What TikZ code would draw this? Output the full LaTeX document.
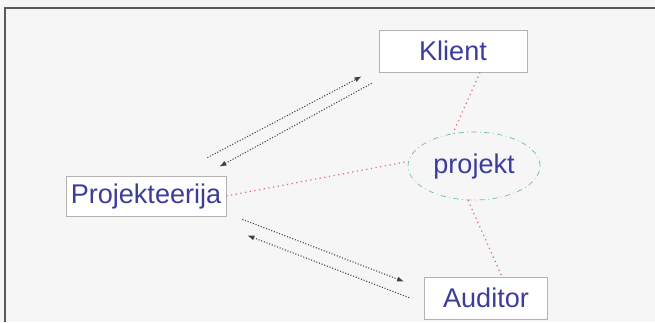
\documentclass[tikz,border=0pt]{standalone}
\usepackage{fontspec}
\setmainfont{Liberation Sans}
\usetikzlibrary{arrows.meta,shapes.geometric}
\definecolor{texteBleu}{RGB}{60,60,155}
\definecolor{fondGris}{RGB}{246,246,246}
\definecolor{vertProjet}{RGB}{110,190,160}
\definecolor{rougeLien}{RGB}{225,110,120}
\begin{document}
\begin{tikzpicture}[x=0.02cm,y=-0.02cm]
		% Styles
		\def\px{0.02cm}
		\tikzstyle{boite}=[draw=gray!60,fill=white,inner sep=0pt,text=texteBleu,font=\fontsize{15.4}{18}\selectfont]
		\tikzstyle{projet}=[ellipse,draw=vertProjet,dash dot,fill=fondGris,inner sep=0pt,text=texteBleu,font=\fontsize{15.4}{18}\selectfont]
		\tikzstyle{fleche}=[-{Latex[length=4pt,width=3pt]},densely dotted,gray!50!black,line width=0.6pt]
		\tikzstyle{lienProjet}=[-,dotted,rougeLien,line width=0.7pt]
		\tikzstyle{cadre}=[gray!70!black,line width=1.2pt]
		% Fond
		\useasboundingbox (0,0) rectangle (655,322);
		\fill[fondGris] (0,0) rectangle (655,322);
		\draw[cadre] (5,322) -- (5,8) -- (655,8);
		% Noeuds
		\node[boite,minimum width=148*\px,minimum height=42*\px] (K) at (453,51) {Klient};
		\node[boite,minimum width=160*\px,minimum height=40*\px] (P) at (146,196) {Projekteerija};
		\node[boite,minimum width=123*\px,minimum height=42*\px] (A) at (486,298) {Auditor};
		\node[projet,minimum width=132*\px,minimum height=68*\px] (Pr) at (474,166) {projekt};
		% Liens
		\draw[fleche] ([shift={(-19,-18)}]P.north east) -- ([shift={(-17,4)}]K.south west);
		\draw[fleche] ([shift={(-7,11)}]K.south west) -- ([shift={(-7,-9)}]P.north east);
		\draw[fleche] ([shift={(16,3)}]P.south east) -- ([shift={(-20,5)}]A.north west);
		\draw[fleche] ([shift={(-15,21)}]A.north west) -- ([shift={(21,19)}]P.south east);
		\draw[lienProjet] ([shift={(27,0)}]K.south) -- (Pr.123);
		\draw[lienProjet] (Pr.260) -- ([shift={(16,0)}]A.north);
		\draw[lienProjet] (P.east) -- (Pr.176);
\end{tikzpicture}
\end{document}
